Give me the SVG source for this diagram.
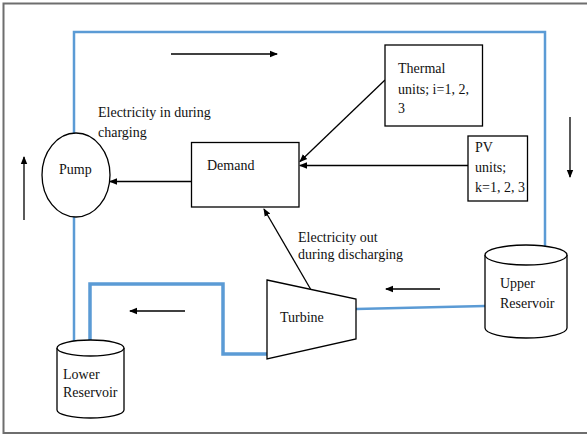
<svg xmlns="http://www.w3.org/2000/svg" width="587" height="439" viewBox="0 0 587 439">
<defs>
<marker id="ah" markerWidth="8" markerHeight="8" refX="7" refY="4" orient="auto" markerUnits="userSpaceOnUse">
<path d="M0,0.8 L8,4 L0,7.2 Z" fill="#000"/>
</marker>
<style>
text{font-family:"Liberation Serif","DejaVu Serif","Times New Roman",serif;font-size:14px;fill:#111}
.box{fill:#fff;stroke:#000;stroke-width:1.3}
.pipe{fill:none;stroke:#5b9bd5;stroke-width:2.5}
.thick{stroke-width:3.5}
.arr{fill:none;stroke:#000;stroke-width:1.3;marker-end:url(#ah)}
</style>
</defs>
<rect x="0" y="0" width="587" height="439" fill="#fff"/>
<path d="M588,3.5 H3.5 V433 H588" fill="none" stroke="#6e6e6e" stroke-width="2"/>
<g id="connectors">
<path class="pipe" d="M74,133 V32 H545 V247"/>
<path class="pipe" d="M74,217 V346"/>
<path class="pipe thick" d="M90,346 V284 H223 V354 H267"/>
<path class="pipe" d="M356,309 L485,306"/>
<line class="arr" x1="171" y1="54" x2="277" y2="54"/>
<line class="arr" x1="570" y1="117" x2="570" y2="177"/>
<line class="arr" x1="24" y1="220" x2="24" y2="157"/>
<line class="arr" x1="185" y1="311" x2="130" y2="311"/>
<line class="arr" x1="440" y1="289" x2="386" y2="289"/>
<line class="arr" x1="192" y1="181.5" x2="110" y2="181.5"/>
<line class="arr" x1="385" y1="80" x2="300" y2="161.5"/>
<line class="arr" x1="468" y1="165.5" x2="300" y2="165.5"/>
<line class="arr" x1="310.5" y1="289" x2="264" y2="209"/>
</g>
<g id="pump">
<ellipse class="box" cx="76" cy="175" rx="34" ry="42"/>
<text x="59" y="174">Pump</text>
</g>
<g id="demand">
<rect class="box" x="191.5" y="142.5" width="107.5" height="64.5"/>
<text x="207" y="170">Demand</text>
</g>
<g id="thermal">
<rect class="box" x="385" y="45" width="97.5" height="81"/>
<text x="398" y="73">Thermal</text>
<text x="398" y="94">units; i=1, 2,</text>
<text x="398" y="113">3</text>
</g>
<g id="pv">
<rect class="box" x="468" y="136" width="59.5" height="65"/>
<text x="475" y="152">PV</text>
<text x="475" y="172">units;</text>
<text x="475" y="192">k=1, 2, 3</text>
</g>
<g id="turbine">
<path class="box" d="M267,280 L356,299 L356,339 L267,359 Z"/>
<text x="280" y="322">Turbine</text>
</g>
<g id="upper-reservoir">
<path class="box" d="M485,255 V328 A41,10 0 0 0 567,328 V255"/>
<ellipse class="box" cx="526" cy="255" rx="41" ry="10"/>
<text x="500" y="288">Upper</text>
<text x="500" y="308">Reservoir</text>
</g>
<g id="lower-reservoir">
<path class="box" d="M57,348 V410 A33.5,8 0 0 0 124,410 V348"/>
<ellipse class="box" cx="90.5" cy="348" rx="33.5" ry="8"/>
<text x="63" y="379">Lower</text>
<text x="63" y="397">Reservoir</text>
</g>
<g id="labels">
<text x="98" y="117">Electricity in during</text>
<text x="98" y="137">charging</text>
<text x="298" y="242">Electricity out</text>
<text x="298" y="259">during discharging</text>
</g>
</svg>
